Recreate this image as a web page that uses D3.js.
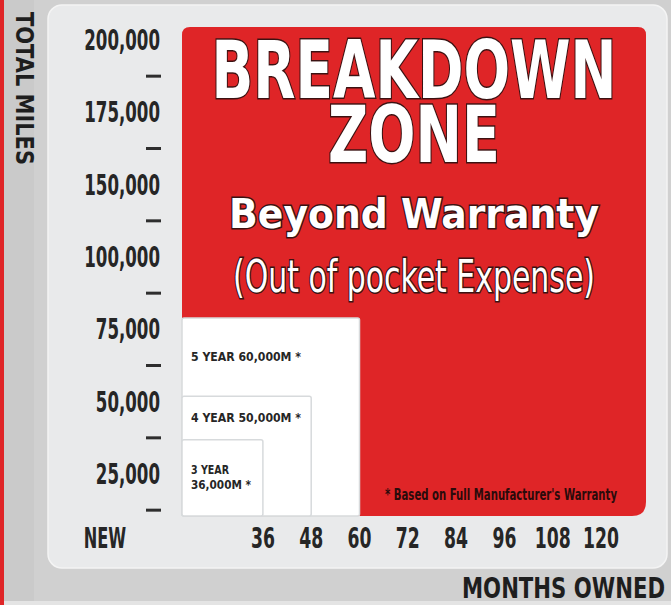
<!DOCTYPE html>
<html lang="en">
<head>
<meta charset="utf-8">
<title>Breakdown Zone</title>
<script src="https://d3js.org/d3.v7.min.js"></script>
<style>
    body {
        margin: 0;
        background-color: #d0d0d0;
    }
    svg { display: block; }

    /* condensed labels (ticks, box notes) */
    .narrow {
        font-family: "Liberation Sans Narrow", "DejaVu Sans Condensed", "Roboto", sans-serif;
        font-weight: bold;
        fill: #262626;
    }
    /* heavy headings */
    .heavy {
        font-family: "DejaVu Sans", "Liberation Sans", sans-serif;
        font-weight: bold;
    }
    .outlined {
        fill: #ffffff;
        stroke: #3b1212;
        stroke-width: 3px;
        paint-order: stroke;
    }
</style>
</head>
<body>
<svg id="chart" width="671" height="605"></svg>

<script>
// ---- data ----
// y labels as printed (125,000 is not on the original)
const yTicks = ["200,000", "175,000", "150,000", "100,000", "75,000", "50,000", "25,000"];
const xTicks = [36, 48, 60, 72, 84, 96, 108, 120];

// warranty boxes, largest first so smaller ones sit on top
const warrantyYears = [5, 4, 3];
const warrantyMonths = [60, 48, 36];
const warrantyMiles = ["60,000M", "50,000M", "36,000M"];
// how high each box reaches on the miles axis, as drawn
const boxMiles = [79000, 52000, 37000];

const red = "#df2527";
const svg = d3.select("#chart");

// squeeze a text horizontally (no narrow font installed)
function squeeze(sel, f) {
    sel.each(function () {
        const w = this.getComputedTextLength();
        d3.select(this).attr("textLength", w * f).attr("lengthAdjust", "spacingAndGlyphs");
    });
}

// background bits
svg.append("rect").attr("x", 0).attr("y", 0).attr("width", 671).attr("height", 605).attr("fill", "#d0d0d0");
svg.append("rect").attr("x", 4).attr("y", 0).attr("width", 30).attr("height", 605).attr("fill", "#cacaca");
svg.append("rect").attr("x", 0).attr("y", 601).attr("width", 671).attr("height", 4).attr("fill", "#e4e4e4");
svg.append("rect").attr("x", 0).attr("y", 0).attr("width", 4).attr("height", 605).attr("fill", red);

// light panel
svg.append("rect")
    .attr("x", 48).attr("y", 5)
    .attr("width", 619).attr("height", 563)
    .attr("rx", 14)
    .attr("fill", "#e9eaeb")
    .attr("stroke", "#f4f4f4")
    .attr("stroke-width", 1.5);

// scales
const x = d3.scaleLinear().domain([0, 120]).range([118, 601]);
const yMiles = d3.scaleLinear().domain([0, 100000]).range([547, 257]);
const yLab = d3.scalePoint().domain(yTicks).range([40, 474]);

const plotLeft = 182, plotRight = 646, plotTop = 27, plotBottom = 516;

// red zone
svg.append("path")
    .attr("d", `M${plotLeft},${plotTop + 8} Q${plotLeft},${plotTop} ${plotLeft + 8},${plotTop}
                L${plotRight - 8},${plotTop} Q${plotRight},${plotTop} ${plotRight},${plotTop + 8}
                L${plotRight},${plotBottom - 14} Q${plotRight},${plotBottom} ${plotRight - 14},${plotBottom}
                L${plotLeft},${plotBottom} Z`)
    .attr("fill", red);

// warranty boxes
svg.selectAll(".box")
    .data(warrantyMonths)
    .enter()
    .append("rect")
    .attr("class", "box")
    .attr("x", plotLeft)
    .attr("y", (d, i) => yMiles(boxMiles[i]))
    .attr("width", d => x(d) - plotLeft)
    .attr("height", (d, i) => plotBottom - yMiles(boxMiles[i]))
    .attr("rx", 2)
    .attr("fill", "#ffffff")
    .attr("stroke", "#d7dadc")
    .attr("stroke-width", 1.5);

// box notes
warrantyYears.forEach((yr, i) => {
    const top = yMiles(boxMiles[i]);
    const bottomOfNext = i < 2 ? yMiles(boxMiles[i + 1]) : plotBottom;
    const mid = (top + bottomOfNext) / 2;
    if (yr === 3) {
        svg.append("text").attr("class", "narrow")
            .attr("x", 191).attr("y", mid - 4)
            .attr("font-size", 12).attr("textLength", 38).attr("lengthAdjust", "spacingAndGlyphs")
            .text(yr + " YEAR");
        svg.append("text").attr("class", "narrow")
            .attr("x", 191).attr("y", mid + 11)
            .attr("font-size", 12).attr("textLength", 60).attr("lengthAdjust", "spacingAndGlyphs")
            .text(warrantyMiles[i] + " *");
    } else {
        svg.append("text").attr("class", "narrow")
            .attr("x", 191).attr("y", mid + 4)
            .attr("font-size", 13).attr("textLength", 110).attr("lengthAdjust", "spacingAndGlyphs")
            .text(yr + " YEAR " + warrantyMiles[i] + " *");
    }
});

// y axis labels and dashes
svg.selectAll(".ylab")
    .data(yTicks)
    .enter()
    .append("text")
    .attr("class", "narrow ylab")
    .attr("x", 160)
    .attr("y", d => yLab(d))
    .attr("dy", "0.36em")
    .attr("text-anchor", "end")
    .attr("font-size", 28)
    .text(d => d)
    .call(squeeze, 0.66);

svg.selectAll(".dash")
    .data(yTicks)
    .enter()
    .append("line")
    .attr("x1", 146).attr("x2", 161)
    .attr("y1", d => yLab(d) + yLab.step() / 2)
    .attr("y2", d => yLab(d) + yLab.step() / 2)
    .attr("stroke", "#2e2e2e")
    .attr("stroke-width", 3);

// x axis labels
svg.selectAll(".xlab")
    .data(xTicks)
    .enter()
    .append("text")
    .attr("class", "narrow xlab")
    .attr("x", d => x(d))
    .attr("y", 538)
    .attr("dy", "0.36em")
    .attr("text-anchor", "middle")
    .attr("font-size", 29)
    .text(d => d)
    .call(squeeze, 0.66);

svg.append("text").attr("class", "narrow")
    .attr("x", x(0) - 13).attr("y", 538).attr("dy", "0.36em")
    .attr("text-anchor", "middle").attr("font-size", 29)
    .text("NEW")
    .call(squeeze, 0.62);

// axis titles
svg.append("text").attr("class", "heavy")
    .attr("transform", "translate(16,12) rotate(90)")
    .attr("font-size", 24).attr("fill", "#1e1e1e")
    .attr("textLength", 153).attr("lengthAdjust", "spacingAndGlyphs")
    .text("TOTAL MILES");

svg.append("text").attr("class", "heavy")
    .attr("x", 462).attr("y", 598)
    .attr("font-size", 29).attr("fill", "#1e1e1e")
    .attr("textLength", 203).attr("lengthAdjust", "spacingAndGlyphs")
    .text("MONTHS OWNED");

// zone headings
const cx = (plotLeft + plotRight) / 2;
const heads = [
    {t: "BREAKDOWN", y: 98, size: 80, w: 405, cls: "heavy outlined"},
    {t: "ZONE", y: 162, size: 78, w: 172, cls: "heavy outlined"},
    {t: "Beyond Warranty", y: 228, size: 41, w: 370, cls: "heavy outlined"},
    {t: "(Out of pocket Expense)", y: 292, size: 44, w: 362, cls: "outlined"}
];
svg.selectAll(".head")
    .data(heads)
    .enter()
    .append("text")
    .attr("class", d => d.cls)
    .attr("x", cx)
    .attr("y", d => d.y)
    .attr("text-anchor", "middle")
    .attr("font-size", d => d.size)
    .attr("textLength", d => d.w)
    .attr("lengthAdjust", "spacingAndGlyphs")
    .style("font-family", d => d.cls === "outlined" ? "'Liberation Sans Narrow', 'DejaVu Sans Condensed', sans-serif" : null)
    .text(d => d.t);

// footnote
svg.append("text").attr("class", "narrow")
    .attr("x", 385).attr("y", 500)
    .attr("font-size", 15)
    .attr("textLength", 232).attr("lengthAdjust", "spacingAndGlyphs")
    .style("fill", "#2a0b0b")
    .text("* Based on Full Manufacturer's Warranty");
</script>
</body>
</html>
